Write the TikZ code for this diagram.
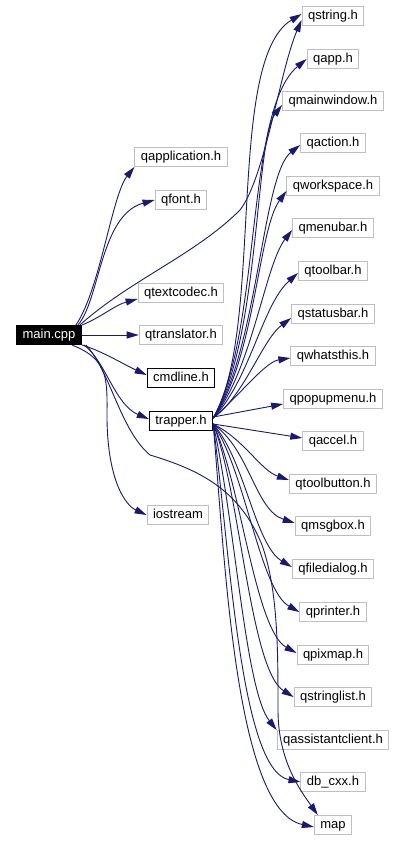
\documentclass[tikz,border=0pt]{standalone}
\usepackage{fontspec}
\setmainfont{Liberation Sans}
\usetikzlibrary{arrows.meta}
\definecolor{edgeblue}{HTML}{191970}
\definecolor{extgray}{HTML}{BFBFBF}

\begin{document}
\begin{tikzpicture}[x=1pt, y=-1pt, >={Triangle[length=12pt,width=7pt]},
  file/.style={draw, line width=1pt, inner xsep=6pt, inner ysep=0pt,
               minimum height=19pt, text height=9.5pt, text depth=2.7pt,
               font=\fontsize{13}{15}\selectfont},
  ext/.style={file, draw=extgray},
  own/.style={file, draw=black},
  root/.style={file, draw=black, fill=black, text=white},
  edge/.style={->, draw=edgeblue, line width=0.9pt}]

\useasboundingbox[fill=white] (0,0) rectangle (406,841);

% the source file and what it pulls in directly
\node[root] (main)        at (49,335)  {main.cpp};
\node[ext]  (qapplication) at (181,157) {qapplication.h};
\node[ext]  (qfont)       at (181,200) {qfont.h};
\node[ext]  (qtextcodec)  at (181,293) {qtextcodec.h};
\node[ext]  (qtranslator) at (181,335) {qtranslator.h};
\node[own]  (cmdline)     at (181,378) {cmdline.h};
\node[own]  (trapper)     at (181,421) {trapper.h};
\node[ext]  (iostream)    at (178,515) {iostream};

% right column, all reached from trapper.h
\node[ext] (qstring)      at (333,16)  {qstring.h};
\node[ext] (qapp)         at (333,59)  {qapp.h};
\node[ext] (qmainwindow)  at (333,101) {qmainwindow.h};
\node[ext] (qaction)      at (333,143) {qaction.h};
\node[ext] (qworkspace)   at (333,186) {qworkspace.h};
\node[ext] (qmenubar)     at (333,228) {qmenubar.h};
\node[ext] (qtoolbar)     at (333,271) {qtoolbar.h};
\node[ext] (qstatusbar)   at (333,314) {qstatusbar.h};
\node[ext] (qwhatsthis)   at (333,356) {qwhatsthis.h};
\node[ext] (qpopupmenu)   at (333,399) {qpopupmenu.h};
\node[ext] (qaccel)       at (333,441) {qaccel.h};
\node[ext] (qtoolbutton)  at (333,484) {qtoolbutton.h};
\node[ext] (qmsgbox)      at (333,526) {qmsgbox.h};
\node[ext] (qfiledialog)  at (333,569) {qfiledialog.h};
\node[ext] (qprinter)     at (333,612) {qprinter.h};
\node[ext] (qpixmap)      at (333,655) {qpixmap.h};
\node[ext] (qstringlist)  at (333,697) {qstringlist.h};
\node[ext] (qassistantclient) at (333,740) {qassistantclient.h};
\node[ext] (dbcxx)        at (333,782) {db\_cxx.h};
\node[ext] (map)          at (333,825) {map};

% main.cpp includes
\draw[edge] ([xshift=-6pt]main.north east) .. controls (100,290) and (112,195) .. (qapplication.south west);
\draw[edge] ([xshift=-4pt]main.north east) .. controls (100,300) and (100,215) .. (qfont.west);
\draw[edge] ([xshift=-2pt]main.north east) .. controls (130,280) and (195,255) .. (240,210)
            .. controls (265,178) and (280,70) .. ([yshift=-4pt]qstring.west);
\draw[edge] (main.north east) .. controls (100,318) and (115,305) .. ([yshift=-6pt]qtextcodec.west);
\draw[edge] (main.east) -- (qtranslator.west);
\draw[edge] (main.south east) .. controls (100,350) and (125,365) .. ([yshift=3pt]cmdline.west);
\draw[edge] ([xshift=2pt]main.south east) .. controls (105,360) and (115,405) .. ([yshift=2pt]trapper.west);
\draw[edge] ([xshift=-10pt]main.south east) .. controls (110,360) and (107,380) .. (107,420)
            .. controls (108,480) and (125,505) .. (iostream.west);
\draw[edge] ([xshift=4pt]main.south east) .. controls (110,370) and (120,430) .. (150,455)
            .. controls (200,470) and (240,490) .. (262,545)
            .. controls (278,590) and (278,650) .. (278,710)
            .. controls (278,760) and (300,790) .. ([xshift=4pt]map.north west);

% trapper.h includes, upward fan
\draw[edge] ([yshift=3pt]trapper.east) .. controls (265,330) and (225,60) .. ([yshift=2pt]qstring.west);
\draw[edge] ([yshift=3pt]trapper.east) .. controls (262,330) and (245,110) .. (qapp.west);
\draw[edge] ([yshift=3pt]trapper.east) .. controls (260,340) and (255,140) .. ([yshift=-4pt]qmainwindow.west);
\draw[edge] ([yshift=3pt]trapper.east) .. controls (258,350) and (262,175) .. ([yshift=-2pt]qaction.west);
\draw[edge] ([yshift=3pt]trapper.east) .. controls (255,360) and (258,230) .. ([yshift=-5pt]qworkspace.west);
\draw[edge] ([yshift=3pt]trapper.east) .. controls (252,370) and (265,265) .. ([yshift=-2pt]qmenubar.west);
\draw[edge] ([yshift=3pt]trapper.east) .. controls (250,380) and (262,305) .. ([yshift=-2pt]qtoolbar.west);
\draw[edge] ([yshift=3pt]trapper.east) .. controls (245,395) and (262,340) .. ([yshift=-4pt]qstatusbar.west);
\draw[edge] ([yshift=3pt]trapper.east) .. controls (240,395) and (265,362) .. ([yshift=-2pt]qwhatsthis.west);
\draw[edge] ([yshift=4pt]trapper.east) -- ([yshift=-5pt]qpopupmenu.west);

% trapper.h includes, downward fan
\draw[edge] ([yshift=-3pt]trapper.east) -- ([yshift=3pt]qaccel.west);
\draw[edge] ([yshift=-3pt]trapper.east) .. controls (245,440) and (260,470) .. ([yshift=4pt]qtoolbutton.west);
\draw[edge] ([yshift=-3pt]trapper.east) .. controls (250,450) and (255,510) .. ([yshift=3pt]qmsgbox.west);
\draw[edge] ([yshift=-3pt]trapper.east) .. controls (245,460) and (255,545) .. ([yshift=2pt]qfiledialog.west);
\draw[edge] ([yshift=-3pt]trapper.east) .. controls (245,470) and (260,590) .. (qprinter.west);
\draw[edge] ([yshift=-3pt]trapper.east) .. controls (240,480) and (255,630) .. ([yshift=2pt]qpixmap.west);
\draw[edge] ([yshift=-3pt]trapper.east) .. controls (240,490) and (250,670) .. (qstringlist.west);
\draw[edge] ([yshift=-3pt]trapper.east) .. controls (235,520) and (245,690) .. (qassistantclient.north west);
\draw[edge] ([yshift=-3pt]trapper.east) .. controls (230,550) and (240,770) .. (dbcxx.west);
\draw[edge] ([yshift=-3pt]trapper.east) .. controls (225,560) and (235,810) .. ([yshift=-2pt]map.west);
\end{tikzpicture}
\end{document}
